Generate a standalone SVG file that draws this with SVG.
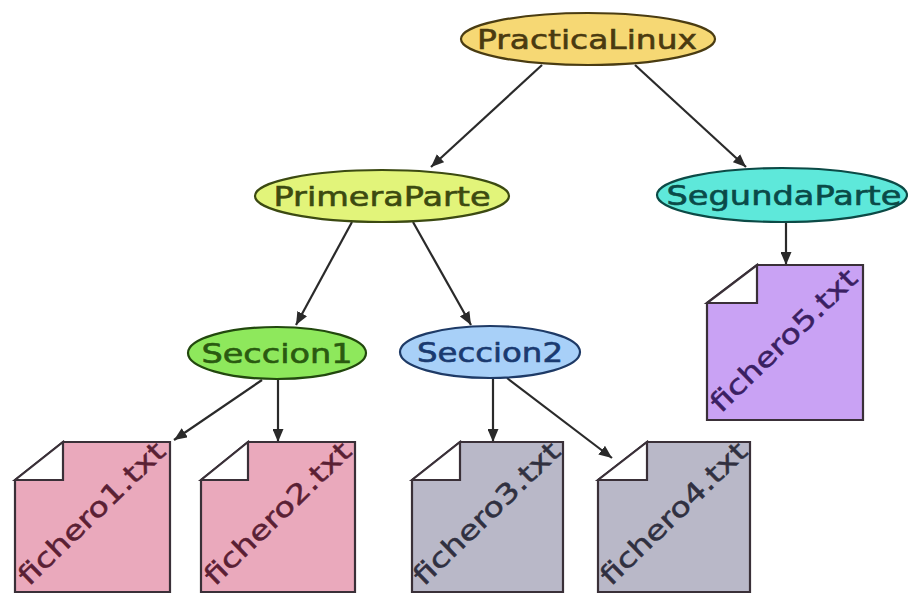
<svg xmlns="http://www.w3.org/2000/svg" width="908" height="594" viewBox="0 0 908 594">
<defs>
<marker id="arr" markerWidth="14" markerHeight="11" refX="13" refY="5.5" orient="auto" markerUnits="userSpaceOnUse">
<path d="M0,0 L13,5.5 L0,11 z" fill="#2a2a2a"/>
</marker>
<style>
.lbl{font-family:"DejaVu Sans","Liberation Sans",sans-serif;font-size:27px;text-anchor:middle;stroke-width:0.6}
.flbl{font-family:"DejaVu Sans","Liberation Sans",sans-serif;font-size:27px;text-anchor:middle;stroke-width:0.5}
.node ellipse{stroke-width:2.2}
.file path{stroke:#3a3038;stroke-width:2.2}
.fold{fill:#ffffff}
.edge{stroke:#2a2a2a;stroke-width:2.2;fill:none;marker-end:url(#arr)}
</style>
</defs>
<rect width="908" height="594" fill="#ffffff"/>
<g id="connectors">
<line class="edge" x1="542" y1="65" x2="431" y2="167"/>
<line class="edge" x1="635" y1="65" x2="746" y2="167"/>
<line class="edge" x1="786" y1="222" x2="786" y2="265"/>
<line class="edge" x1="352" y1="222" x2="296" y2="325"/>
<line class="edge" x1="413" y1="222" x2="471" y2="325"/>
<line class="edge" x1="262" y1="380" x2="174" y2="440"/>
<line class="edge" x1="278" y1="380" x2="278" y2="442"/>
<line class="edge" x1="493" y1="378" x2="493" y2="442"/>
<line class="edge" x1="507" y1="378" x2="612" y2="458"/>
</g>
<g id="PracticaLinux" class="node">
<ellipse cx="588" cy="39" rx="127" ry="26" fill="#f6d874" stroke="#4a3c12"/>
<text class="lbl" x="587" y="49" fill="#4a3a10" stroke="#4a3a10" textLength="220" lengthAdjust="spacingAndGlyphs">PracticaLinux</text>
</g>
<g id="PrimeraParte" class="node">
<ellipse cx="382" cy="196" rx="127" ry="26" fill="#e2f47a" stroke="#3c4a12"/>
<text class="lbl" x="382" y="206" fill="#3c4a10" stroke="#3c4a10" textLength="217" lengthAdjust="spacingAndGlyphs">PrimeraParte</text>
</g>
<g id="SegundaParte" class="node">
<ellipse cx="782" cy="195" rx="125" ry="27" fill="#5ee8da" stroke="#0c4a46"/>
<text class="lbl" x="784" y="205" fill="#0a4a48" stroke="#0a4a48" textLength="235" lengthAdjust="spacingAndGlyphs">SegundaParte</text>
</g>
<g id="Seccion1" class="node">
<ellipse cx="277" cy="353" rx="89" ry="26" fill="#8ee85c" stroke="#22480e"/>
<text class="lbl" x="277" y="363" fill="#2a5a10" stroke="#2a5a10" textLength="151" lengthAdjust="spacingAndGlyphs">Seccion1</text>
</g>
<g id="Seccion2" class="node">
<ellipse cx="490" cy="352" rx="90" ry="26" fill="#a8d0f8" stroke="#1e3a66"/>
<text class="lbl" x="490" y="362" fill="#1a3a70" stroke="#1a3a70" textLength="146" lengthAdjust="spacingAndGlyphs">Seccion2</text>
</g>
<g id="fichero1" class="file">
<path d="M63,442 L170,442 L170,592 L15,592 L15,480 Z" fill="#eaa9bc"/>
<path class="fold" d="M15,480 L63,442 L63,480 Z"/>
<text class="flbl" transform="translate(98,520) rotate(-44)" fill="#5a2034" stroke="#5a2034" textLength="192" lengthAdjust="spacingAndGlyphs">fichero1.txt</text>
</g>
<g id="fichero2" class="file">
<path d="M248,442 L355,442 L355,592 L201,592 L201,480 Z" fill="#eaa9bc"/>
<path class="fold" d="M201,480 L248,442 L248,480 Z"/>
<text class="flbl" transform="translate(284,520) rotate(-44)" fill="#5a2034" stroke="#5a2034" textLength="192" lengthAdjust="spacingAndGlyphs">fichero2.txt</text>
</g>
<g id="fichero3" class="file">
<path d="M460,442 L563,442 L563,592 L412,592 L412,480 Z" fill="#b9b8c8"/>
<path class="fold" d="M412,480 L460,442 L460,480 Z"/>
<text class="flbl" transform="translate(493,520) rotate(-44)" fill="#303040" stroke="#303040" textLength="192" lengthAdjust="spacingAndGlyphs">fichero3.txt</text>
</g>
<g id="fichero4" class="file">
<path d="M647,442 L750,442 L750,592 L598,592 L598,480 Z" fill="#b9b8c8"/>
<path class="fold" d="M598,480 L647,442 L647,480 Z"/>
<text class="flbl" transform="translate(680,520) rotate(-44)" fill="#303040" stroke="#303040" textLength="192" lengthAdjust="spacingAndGlyphs">fichero4.txt</text>
</g>
<g id="fichero5" class="file">
<path d="M757,265 L863,265 L863,420 L707,420 L707,303 Z" fill="#c9a2f4"/>
<path class="fold" d="M707,303 L757,265 L757,303 Z"/>
<text class="flbl" transform="translate(790,347) rotate(-44)" fill="#3a2062" stroke="#3a2062" textLength="192" lengthAdjust="spacingAndGlyphs">fichero5.txt</text>
</g>
</svg>
